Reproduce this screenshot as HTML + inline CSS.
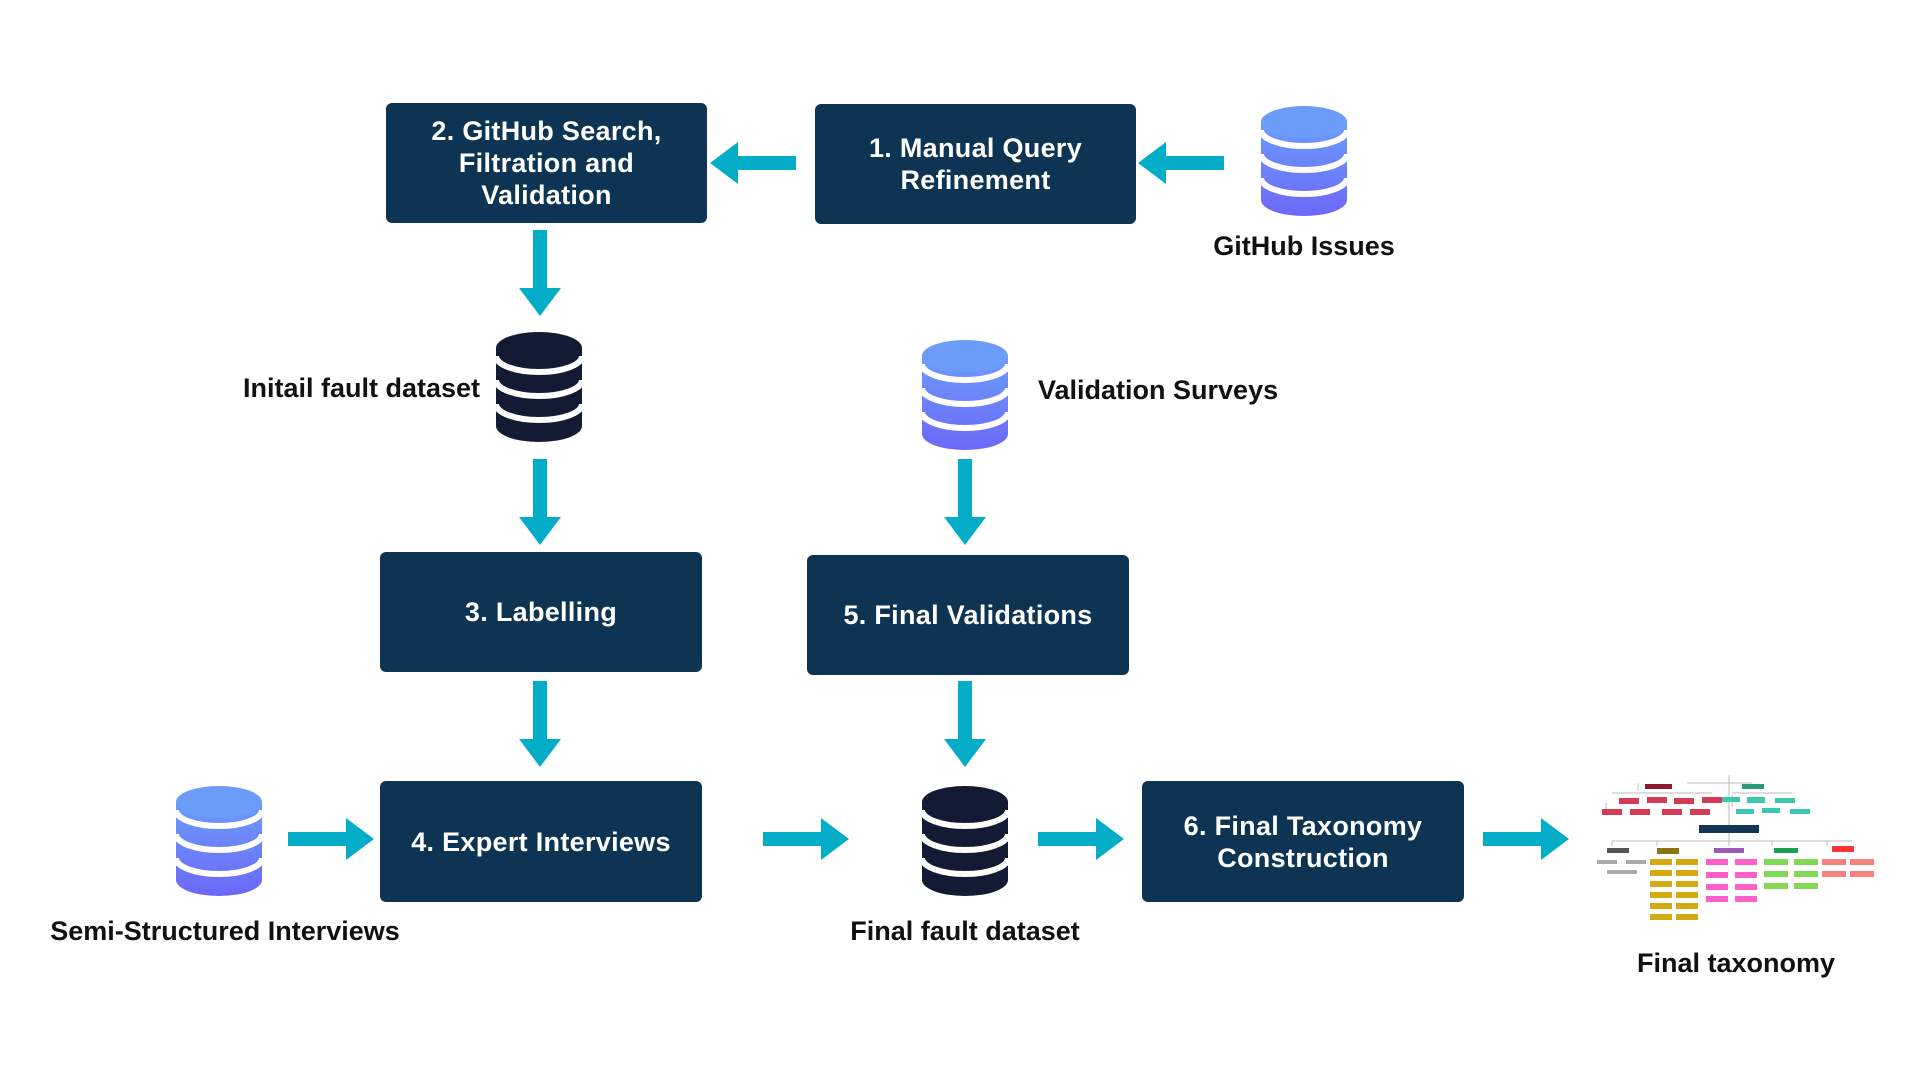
<!DOCTYPE html>
<html><head><meta charset="utf-8"><style>
body{margin:0;width:1920px;height:1080px;background:#fff;position:relative;overflow:hidden;font-family:"Liberation Sans",sans-serif}
.box{position:absolute;background:#0e3454;border-radius:6px;color:#fff;font-weight:bold;font-size:27px;display:flex;align-items:center;justify-content:center;text-align:center;line-height:32px;letter-spacing:0.3px}
.lbl{position:absolute;font-weight:bold;font-size:27px;color:#111;white-space:nowrap}
svg.abs{position:absolute;left:0;top:0}
</style></head><body>
<svg class="abs" width="1920" height="1080">
<defs>
<linearGradient id="bg" x1="0" y1="0" x2="0" y2="1"><stop offset="0" stop-color="#6b9cfa"/><stop offset="1" stop-color="#6c68f8"/></linearGradient>
<g id="cylB">
<path d="M0,16 V94 A43,16 0 0 0 86,94 V16 Z" fill="url(#bg)"/>
<ellipse cx="43" cy="16" rx="43" ry="16" fill="#6b9cfa"/>
<path d="M0,24 A43,16 0 0 0 86,24 M0,48 A43,16 0 0 0 86,48 M0,72 A43,16 0 0 0 86,72" stroke="#fff" stroke-width="6" fill="none"/>
</g>
<g id="cylD">
<path d="M0,16 V94 A43,16 0 0 0 86,94 V16 Z" fill="#131a33"/>
<ellipse cx="43" cy="16" rx="43" ry="16" fill="#131a33"/>
<path d="M0,24 A43,16 0 0 0 86,24 M0,48 A43,16 0 0 0 86,48 M0,72 A43,16 0 0 0 86,72" stroke="#fff" stroke-width="6" fill="none"/>
</g>
<polygon id="ar" points="0,-7 58,-7 58,-21 86,0 58,21 58,7 0,7" fill="#03adc7"/>
</defs>
<use href="#cylB" x="1261" y="106"/>
<use href="#cylD" x="496" y="332"/>
<use href="#cylB" x="922" y="340"/>
<use href="#cylB" x="176" y="786"/>
<use href="#cylD" x="922" y="786"/>
<!-- arrows -->
<use href="#ar" transform="translate(1224,163) rotate(180)"/>
<use href="#ar" transform="translate(796,163) rotate(180)"/>
<use href="#ar" transform="translate(540,230) rotate(90)"/>
<use href="#ar" transform="translate(540,459) rotate(90)"/>
<use href="#ar" transform="translate(965,459) rotate(90)"/>
<use href="#ar" transform="translate(540,681) rotate(90)"/>
<use href="#ar" transform="translate(965,681) rotate(90)"/>
<use href="#ar" transform="translate(288,839)"/>
<use href="#ar" transform="translate(763,839)"/>
<use href="#ar" transform="translate(1038,839)"/>
<use href="#ar" transform="translate(1483,839)"/>
<!-- taxonomy thumbnail -->
<g transform="translate(1592,771)" stroke="#bbb" stroke-width="1" fill="none">
<path d="M95,12 H160 M137,4 V50 M46,12 V20 M20,22 H120 M14,32 V38 M140,22 H200 M140,24 V36 M137,50 V70 M20,70 H260 M20,70 V75 M65,70 V75 M137,70 V75 M180,70 V75 M235,70 V75"/>
</g>
<g transform="translate(1592,771)">
<rect x="53" y="13" width="27" height="5" fill="#8b1a2e"/>
<rect x="150" y="13" width="22" height="5" fill="#2a9a74"/>
<rect x="27" y="27" width="20" height="6" fill="#d63b55"/><rect x="55" y="26" width="20" height="6" fill="#d63b55"/><rect x="82" y="27" width="20" height="6" fill="#d63b55"/><rect x="110" y="26" width="20" height="6" fill="#d63b55"/>
<rect x="10" y="38" width="20" height="6" fill="#d63b55"/><rect x="38" y="38" width="20" height="6" fill="#d63b55"/><rect x="70" y="38" width="20" height="6" fill="#d63b55"/><rect x="98" y="38" width="20" height="6" fill="#d63b55"/>
<rect x="130" y="26" width="18" height="5" fill="#3bc8b0"/><rect x="155" y="26" width="18" height="6" fill="#3bc8b0"/><rect x="183" y="27" width="20" height="5" fill="#3bc8b0"/>
<rect x="144" y="38" width="18" height="5" fill="#3bc8b0"/><rect x="170" y="37" width="18" height="5" fill="#3bc8b0"/><rect x="198" y="38" width="20" height="5" fill="#3bc8b0"/>
<rect x="107" y="54" width="60" height="8" fill="#143553"/>
<rect x="15" y="77" width="22" height="5" fill="#555"/><rect x="65" y="77" width="22" height="6" fill="#8a7310"/><rect x="122" y="77" width="30" height="5" fill="#9b59b6"/><rect x="182" y="77" width="24" height="5" fill="#1aa055"/><rect x="240" y="75" width="22" height="6" fill="#ff3333"/>
<g fill="#aaa"><rect x="5" y="89" width="20" height="4"/><rect x="34" y="89" width="20" height="4"/><rect x="15" y="99" width="30" height="4"/></g>
<g fill="#d4aa10"><rect x="58" y="88" width="22" height="6"/><rect x="84" y="88" width="22" height="6"/><rect x="58" y="99" width="22" height="6"/><rect x="84" y="99" width="22" height="6"/><rect x="58" y="110" width="22" height="6"/><rect x="84" y="110" width="22" height="6"/><rect x="58" y="121" width="22" height="6"/><rect x="84" y="121" width="22" height="6"/><rect x="58" y="132" width="22" height="6"/><rect x="84" y="132" width="22" height="6"/><rect x="58" y="143" width="22" height="6"/><rect x="84" y="143" width="22" height="6"/></g>
<g fill="#ff5fc8"><rect x="114" y="88" width="22" height="6"/><rect x="143" y="88" width="22" height="6"/><rect x="114" y="101" width="22" height="6"/><rect x="143" y="101" width="22" height="6"/><rect x="114" y="113" width="22" height="6"/><rect x="143" y="113" width="22" height="6"/><rect x="114" y="125" width="22" height="6"/><rect x="143" y="125" width="22" height="6"/></g>
<g fill="#80d855"><rect x="172" y="88" width="24" height="6"/><rect x="202" y="88" width="24" height="6"/><rect x="172" y="100" width="24" height="6"/><rect x="202" y="100" width="24" height="6"/><rect x="172" y="112" width="24" height="6"/><rect x="202" y="112" width="24" height="6"/></g>
<g fill="#f58080"><rect x="230" y="88" width="24" height="6"/><rect x="258" y="88" width="24" height="6"/><rect x="230" y="100" width="24" height="6"/><rect x="258" y="100" width="24" height="6"/></g>
</g>
</svg>
<div class="box" style="left:386px;top:103px;width:321px;height:120px">2. GitHub Search,<br>Filtration and<br>Validation</div>
<div class="box" style="left:815px;top:104px;width:321px;height:120px">1. Manual Query<br>Refinement</div>
<div class="box" style="left:380px;top:552px;width:322px;height:120px">3. Labelling</div>
<div class="box" style="left:807px;top:555px;width:322px;height:120px">5. Final Validations</div>
<div class="box" style="left:380px;top:781px;width:322px;height:121px">4. Expert Interviews</div>
<div class="box" style="left:1142px;top:781px;width:322px;height:121px">6. Final Taxonomy<br>Construction</div>
<div class="lbl" style="left:1212px;top:231px;width:184px;text-align:center">GitHub Issues</div>
<div class="lbl" style="left:180px;top:373px;width:300px;text-align:right">Initail fault dataset</div>
<div class="lbl" style="left:1038px;top:375px">Validation Surveys</div>
<div class="lbl" style="left:0px;top:916px;width:450px;text-align:center">Semi-Structured Interviews</div>
<div class="lbl" style="left:765px;top:916px;width:400px;text-align:center">Final fault dataset</div>
<div class="lbl" style="left:1536px;top:948px;width:400px;text-align:center">Final taxonomy</div>
</body></html>
